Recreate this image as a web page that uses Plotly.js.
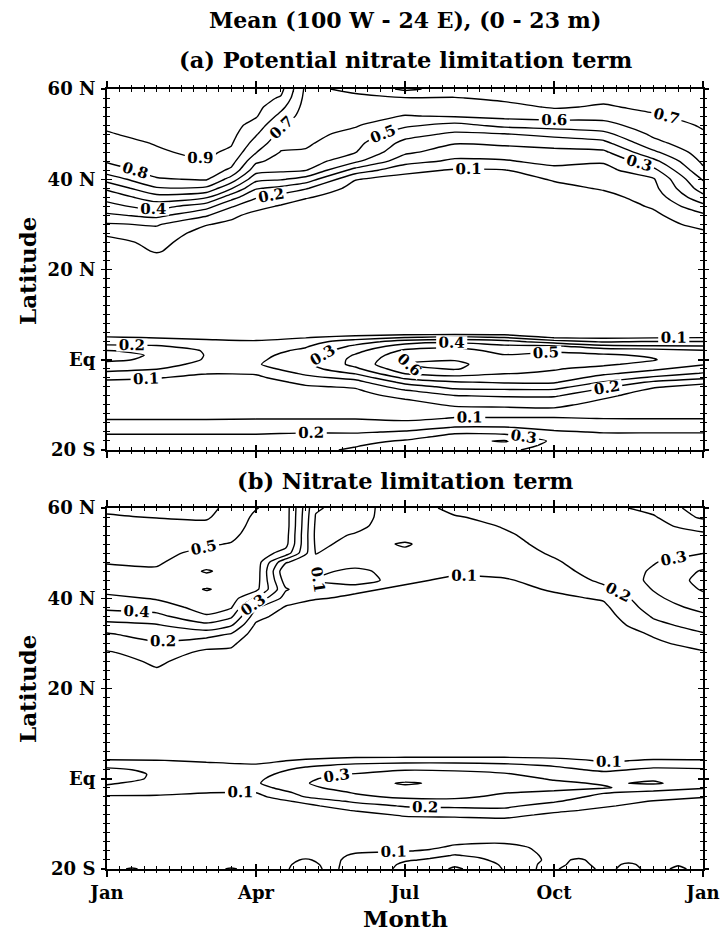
<!DOCTYPE html>
<html>
<head>
<meta charset="utf-8">
<script src="https://cdn.plot.ly/plotly-3.0.1.min.js"></script>
<style>html,body{margin:0;padding:0;background:#fff;}#chart{width:722px;height:935px;}</style>
</head>
<body>
<div id="chart"></div>
<script>
// ---------- grid coordinates ----------
const monthsA = [0,1,2,2.5,3,3.5,4,5,6,7,8,9,10,11,12];
const monthsB = [0,1,2,2.5,3,3.6,4.2,5,6,7,8,9,10,11,12];
const monthly = [0,1,2,3,4,5,6,7,8,9,10,11,12];
const halfMonths = [0,0.5,1,1.5,2,2.5,3,3.5,4,4.5,5,5.5,6,6.5,7,7.5,8,8.5,9,9.5,10,10.5,11,11.5,12];
const latNorth = [22,24,26,28,30,32,34,36,38,40,42,44,46,48,50,52,54,56,58,60];
const latEqA = [-20,-19,-18,-17,-16,-15,-14,-13,-12,-11,-10,-9,-8,-7,-6,-5,-4,-3,-2,-1,0,1,2,3,4,5,6,8];
const latEqB = [-11,-10,-9,-8,-7,-6,-5,-4,-3,-2,-1,0,1,2,3,4,5,6,8];
const latSouthB = [-20,-19,-18,-17,-16,-15,-14,-13,-12];

// ---------- tick labels ----------
const monthTickVals = [0,3,6,9,12];
const monthTickText = ['Jan','Apr','Jul','Oct','Jan'];
const latTickVals = [-20,0,20,40,60];
const latTickText = ['20 S','Eq','20 N','40 N','60 N'];

// ---------- (a) potential nitrate limitation, north (one array per month column, lat 22..60) ----------
const aNorth = [
 [0.00,0.02,0.06,0.12,0.19,0.28,0.37,0.43,0.52,0.64,0.75,0.81,0.84,0.87,0.895,0.91,0.92,0.93,0.94,0.95],
 [0.04,0.11,0.13,0.16,0.21,0.33,0.44,0.56,0.69,0.79,0.84,0.87,0.89,0.905,0.92,0.93,0.94,0.94,0.95,0.95],
 [0.00,0.02,0.04,0.06,0.105,0.21,0.34,0.51,0.68,0.81,0.86,0.895,0.92,0.93,0.94,0.94,0.95,0.95,0.95,0.95],
 [0.00,0.01,0.03,0.05,0.08,0.12,0.21,0.34,0.51,0.66,0.78,0.84,0.88,0.91,0.93,0.94,0.95,0.95,0.95,0.95],
 [0.00,0.01,0.02,0.03,0.05,0.07,0.13,0.21,0.31,0.43,0.54,0.62,0.705,0.76,0.81,0.86,0.91,0.93,0.94,0.95],
 [0.00,0.00,0.01,0.02,0.03,0.05,0.09,0.16,0.27,0.41,0.52,0.56,0.595,0.63,0.67,0.71,0.77,0.83,0.89,0.93],
 [0.00,0.00,0.01,0.01,0.02,0.03,0.05,0.11,0.21,0.36,0.505,0.56,0.59,0.615,0.63,0.64,0.65,0.66,0.67,0.68],
 [0.00,0.00,0.00,0.01,0.01,0.02,0.03,0.04,0.06,0.105,0.26,0.42,0.505,0.53,0.57,0.61,0.64,0.66,0.68,0.72],
 [0.00,0.00,0.00,0.00,0.01,0.01,0.02,0.03,0.04,0.06,0.13,0.24,0.32,0.37,0.44,0.52,0.595,0.65,0.695,0.82],
 [0.00,0.00,0.00,0.00,0.00,0.01,0.01,0.02,0.03,0.05,0.09,0.18,0.25,0.305,0.38,0.47,0.61,0.66,0.695,0.76],
 [0.00,0.00,0.00,0.00,0.00,0.00,0.01,0.02,0.03,0.05,0.095,0.19,0.25,0.32,0.395,0.53,0.63,0.67,0.72,0.75],
 [0.00,0.00,0.00,0.01,0.01,0.02,0.03,0.05,0.07,0.11,0.17,0.23,0.27,0.34,0.43,0.55,0.64,0.71,0.73,0.75],
 [0.00,0.00,0.01,0.01,0.02,0.03,0.05,0.07,0.11,0.14,0.17,0.21,0.28,0.37,0.47,0.57,0.63,0.69,0.72,0.74],
 [0.00,0.01,0.02,0.04,0.06,0.08,0.11,0.14,0.17,0.19,0.27,0.37,0.48,0.57,0.62,0.65,0.69,0.72,0.74,0.76],
 [0.00,0.02,0.05,0.08,0.13,0.18,0.27,0.37,0.45,0.51,0.58,0.62,0.65,0.67,0.69,0.71,0.73,0.75,0.77,0.78]
];

// ---------- (a) equatorial / south band (one array per month, lat -20..8) ----------
const aEq = [
 [0.25,0.24,0.23,0.21,0.19,0.16,0.13,0.09,0.07,0.05,0.05,0.05,0.05,0.05,0.06,0.08,0.12,0.18,0.23,0.27,0.32,0.33,0.305,0.22,0.15,0.105,0.02,0],
 [0.24,0.23,0.22,0.21,0.19,0.16,0.13,0.09,0.07,0.05,0.05,0.05,0.05,0.05,0.05,0.07,0.105,0.15,0.205,0.24,0.28,0.29,0.27,0.21,0.15,0.09,0.02,0],
 [0.24,0.23,0.22,0.21,0.19,0.16,0.13,0.09,0.07,0.05,0.05,0.05,0.05,0.05,0.05,0.05,0.07,0.105,0.14,0.17,0.19,0.195,0.19,0.16,0.12,0.08,0.02,0],
 [0.25,0.23,0.22,0.21,0.19,0.16,0.13,0.095,0.07,0.05,0.05,0.05,0.05,0.05,0.05,0.06,0.08,0.11,0.16,0.19,0.18,0.17,0.16,0.14,0.11,0.07,0.02,0],
 [0.28,0.26,0.24,0.22,0.195,0.165,0.13,0.095,0.07,0.05,0.05,0.05,0.05,0.06,0.09,0.12,0.17,0.22,0.26,0.28,0.27,0.25,0.22,0.19,0.16,0.09,0.02,0],
 [0.31,0.295,0.27,0.23,0.19,0.16,0.13,0.095,0.07,0.05,0.05,0.05,0.06,0.08,0.11,0.16,0.23,0.31,0.38,0.43,0.43,0.41,0.37,0.32,0.25,0.14,0.02,0],
 [0.33,0.33,0.31,0.26,0.21,0.16,0.12,0.08,0.06,0.06,0.07,0.09,0.13,0.18,0.25,0.33,0.42,0.51,0.57,0.605,0.58,0.56,0.52,0.45,0.35,0.19,0.02,0],
 [0.34,0.36,0.37,0.33,0.28,0.205,0.15,0.105,0.08,0.08,0.11,0.15,0.195,0.26,0.33,0.39,0.47,0.54,0.61,0.62,0.595,0.58,0.54,0.48,0.38,0.22,0.02,0],
 [0.32,0.36,0.41,0.33,0.27,0.205,0.15,0.105,0.08,0.08,0.12,0.16,0.21,0.27,0.34,0.41,0.46,0.505,0.53,0.55,0.53,0.505,0.47,0.42,0.34,0.19,0.02,0],
 [0.26,0.27,0.28,0.25,0.21,0.18,0.14,0.105,0.08,0.09,0.12,0.16,0.21,0.27,0.34,0.41,0.46,0.49,0.505,0.52,0.53,0.52,0.49,0.42,0.25,0.08,0.02,0],
 [0.26,0.25,0.24,0.22,0.195,0.17,0.14,0.098,0.07,0.06,0.07,0.09,0.12,0.16,0.22,0.29,0.36,0.42,0.48,0.51,0.52,0.51,0.47,0.33,0.19,0.07,0.02,0],
 [0.25,0.24,0.23,0.22,0.195,0.17,0.13,0.098,0.07,0.05,0.05,0.05,0.05,0.07,0.11,0.18,0.28,0.36,0.42,0.48,0.505,0.49,0.45,0.31,0.21,0.08,0.02,0],
 [0.25,0.24,0.23,0.22,0.195,0.17,0.13,0.098,0.07,0.05,0.05,0.05,0.05,0.05,0.07,0.12,0.22,0.295,0.35,0.41,0.44,0.44,0.41,0.305,0.205,0.09,0.02,0]
];

// ---------- (b) nitrate limitation, north (one array per month column, lat 22..60) ----------
const bNorth = [
 [0,0.02,0.05,0.09,0.15,0.19,0.26,0.36,0.42,0.47,0.54,0.55,0.52,0.495,0.49,0.48,0.47,0.45,0.41,0.38],
 [0.05,0.09,0.12,0.15,0.19,0.24,0.29,0.37,0.45,0.51,0.54,0.53,0.51,0.49,0.48,0.47,0.46,0.44,0.395,0.36],
 [0,0.01,0.04,0.08,0.14,0.24,0.37,0.49,0.54,0.57,0.605,0.56,0.61,0.55,0.52,0.49,0.46,0.42,0.39,0.38],
 [0,0.02,0.05,0.08,0.12,0.19,0.31,0.42,0.51,0.55,0.58,0.56,0.57,0.56,0.53,0.505,0.48,0.46,0.44,0.42],
 [0,0,0.01,0.02,0.03,0.05,0.08,0.14,0.21,0.38,0.53,0.55,0.56,0.56,0.56,0.55,0.54,0.53,0.52,0.495],
 [0,0,0,0,0.01,0.02,0.03,0.05,0.09,0.16,0.21,0.15,0.11,0.21,0.46,0.53,0.54,0.55,0.55,0.55],
 [0,0,0,0,0,0.01,0.02,0.04,0.07,0.105,0.12,0.097,0.11,0.12,0.098,0.085,0.08,0.085,0.095,0.11],
 [0,0,0,0.01,0.01,0.02,0.03,0.04,0.06,0.09,0.11,0.09,0.09,0.12,0.13,0.12,0.105,0.085,0.07,0.06],
 [0,0,0,0,0,0.01,0.02,0.03,0.04,0.06,0.09,0.11,0.12,0.12,0.11,0.095,0.12,0.14,0.15,0.16],
 [0,0,0,0,0,0,0.01,0.02,0.03,0.04,0.06,0.09,0.11,0.12,0.12,0.13,0.15,0.17,0.195,0.22],
 [0,0,0,0,0,0.01,0.02,0.03,0.04,0.05,0.07,0.09,0.13,0.15,0.16,0.18,0.19,0.205,0.22,0.23],
 [0,0,0,0.01,0.02,0.03,0.04,0.05,0.06,0.08,0.11,0.14,0.17,0.19,0.21,0.22,0.23,0.23,0.24,0.24],
 [0,0,0,0.01,0.02,0.03,0.04,0.06,0.08,0.11,0.18,0.22,0.24,0.25,0.26,0.26,0.26,0.26,0.27,0.27],
 [0,0.01,0.03,0.05,0.08,0.11,0.17,0.21,0.25,0.28,0.305,0.32,0.31,0.295,0.29,0.28,0.28,0.28,0.29,0.33],
 [0,0.03,0.06,0.09,0.14,0.19,0.24,0.28,0.33,0.37,0.41,0.43,0.41,0.35,0.298,0.28,0.285,0.33,0.42,0.45]
];

// ---------- (b) equatorial band (one array per month, lat -11..8) ----------
const bEq = [
 [0.03,0.03,0.03,0.03,0.04,0.04,0.06,0.09,0.13,0.18,0.21,0.23,0.24,0.22,0.17,0.11,0.06,0,0],
 [0.03,0.03,0.03,0.03,0.04,0.04,0.06,0.09,0.12,0.15,0.17,0.19,0.19,0.18,0.15,0.105,0.06,0,0],
 [0.03,0.03,0.03,0.03,0.03,0.04,0.05,0.07,0.105,0.13,0.14,0.15,0.15,0.14,0.12,0.09,0.05,0,0],
 [0.03,0.03,0.03,0.03,0.03,0.04,0.05,0.07,0.103,0.16,0.19,0.18,0.16,0.14,0.11,0.07,0.04,0,0],
 [0.03,0.04,0.04,0.05,0.06,0.08,0.12,0.205,0.24,0.28,0.295,0.29,0.27,0.23,0.18,0.12,0.06,0,0],
 [0.04,0.05,0.05,0.07,0.105,0.15,0.22,0.28,0.31,0.34,0.36,0.33,0.305,0.27,0.22,0.15,0.08,0.01,0],
 [0.05,0.06,0.08,0.11,0.16,0.21,0.26,0.32,0.35,0.38,0.41,0.37,0.34,0.295,0.24,0.16,0.08,0.02,0],
 [0.05,0.06,0.08,0.12,0.17,0.22,0.27,0.32,0.35,0.37,0.38,0.36,0.33,0.29,0.24,0.16,0.08,0.02,0],
 [0.05,0.06,0.09,0.13,0.18,0.22,0.25,0.28,0.305,0.33,0.35,0.34,0.31,0.27,0.22,0.16,0.08,0.02,0],
 [0.04,0.05,0.06,0.08,0.12,0.16,0.21,0.25,0.29,0.32,0.32,0.29,0.26,0.23,0.19,0.14,0.07,0.01,0],
 [0.04,0.04,0.05,0.06,0.08,0.11,0.14,0.17,0.21,0.31,0.29,0.27,0.23,0.18,0.12,0.09,0.06,0.01,0],
 [0.03,0.03,0.04,0.04,0.05,0.07,0.095,0.14,0.18,0.25,0.31,0.29,0.26,0.22,0.17,0.11,0.07,0.01,0],
 [0.03,0.03,0.03,0.03,0.04,0.05,0.07,0.105,0.15,0.21,0.26,0.27,0.25,0.21,0.17,0.11,0.06,0.01,0]
];

// ---------- (b) southern edge (one array per latitude row -20..-12, half-month columns) ----------
const bSouth = [
 [0.09,0.103,0.09,0.09,0.09,0.103,0.09,0.09,0.12,0.09,0.12,0.12,0.08,0.07,0.11,0.08,0.102,0.102,0.095,0.12,0.09,0.11,0.09,0.105,0.09],
 [0.088,0.09,0.088,0.088,0.088,0.09,0.088,0.088,0.115,0.088,0.12,0.12,0.09,0.08,0.09,0.085,0.105,0.105,0.09,0.11,0.088,0.105,0.088,0.098,0.088],
 [0.085,0.085,0.085,0.085,0.085,0.085,0.085,0.085,0.105,0.085,0.12,0.12,0.105,0.095,0.09,0.095,0.11,0.11,0.09,0.105,0.085,0.09,0.085,0.085,0.085],
 [0.08,0.08,0.08,0.08,0.08,0.08,0.08,0.08,0.085,0.08,0.11,0.115,0.115,0.11,0.098,0.105,0.115,0.11,0.085,0.09,0.08,0.08,0.08,0.08,0.08],
 [0.075,0.075,0.075,0.075,0.075,0.075,0.075,0.075,0.075,0.075,0.09,0.095,0.098,0.105,0.11,0.115,0.115,0.105,0.08,0.075,0.075,0.075,0.075,0.075,0.075],
 [0.07,0.07,0.07,0.07,0.07,0.07,0.07,0.07,0.07,0.07,0.075,0.08,0.085,0.09,0.105,0.11,0.11,0.098,0.075,0.07,0.07,0.07,0.07,0.07,0.07],
 [0.06,0.06,0.06,0.06,0.06,0.06,0.06,0.06,0.06,0.06,0.06,0.06,0.06,0.07,0.09,0.095,0.095,0.09,0.06,0.06,0.06,0.06,0.06,0.06,0.06],
 [0.05,0.05,0.05,0.05,0.05,0.05,0.05,0.05,0.05,0.05,0.05,0.05,0.05,0.05,0.06,0.06,0.06,0.06,0.05,0.05,0.05,0.05,0.05,0.05,0.05],
 [0.04,0.04,0.04,0.04,0.04,0.04,0.04,0.04,0.04,0.04,0.04,0.04,0.04,0.04,0.04,0.04,0.04,0.04,0.04,0.04,0.04,0.04,0.04,0.04,0.04]
];

// ---------- styling ----------
const FONT = 'DejaVu Serif';
function contourTrace(x, y, z, xa, ya, transpose) {
  return {
    type: 'contour', x: x, y: y, z: z, transpose: transpose,
    xaxis: xa, yaxis: ya,
    autocontour: false,
    contours: {coloring: 'lines', start: 0.1, end: 0.9, size: 0.1, showlabels: true,
      labelformat: '.1f',
      labelfont: {family: FONT, size: 15, color: '#000', weight: 'bold'}},
    colorscale: [[0, '#000'], [1, '#000']],
    showscale: false, hoverinfo: 'skip',
    line: {width: 1.4, smoothing: 0.6}
  };
}

const data = [
  contourTrace(monthsA, latNorth, aNorth, 'x', 'y', true),
  contourTrace(monthly, latEqA, aEq, 'x', 'y', true),
  contourTrace(monthsB, latNorth, bNorth, 'x2', 'y2', true),
  contourTrace(monthly, latEqB, bEq, 'x2', 'y2', true),
  contourTrace(halfMonths, latSouthB, bSouth, 'x2', 'y2', false),
  {type: 'scatter', x: [], y: [], xaxis: 'x3', yaxis: 'y3', hoverinfo: 'skip', showlegend: false},
  {type: 'scatter', x: [], y: [], xaxis: 'x4', yaxis: 'y4', hoverinfo: 'skip', showlegend: false}
];

const W = 722, H = 935;
const xDom = [107 / W, 703 / W];
const yDomA = [1 - 450 / H, 1 - 89 / H];
const yDomB = [1 - 869 / H, 1 - 508 / H];

function xAxisMain(anchor, labels) {
  return {
    domain: xDom, anchor: anchor, range: [0, 12],
    tickmode: 'array', tickvals: monthTickVals, ticktext: monthTickText,
    showticklabels: labels, ticklabelstandoff: 6,
    ticks: 'inside', ticklen: 5, tickwidth: 1.5, tickcolor: '#000', mirror: 'allticks',
    showline: true, linewidth: 2, linecolor: '#000', showgrid: false, zeroline: false,
    tickfont: {family: FONT, size: 18, color: '#000', weight: 'bold'},
    minor: {tickmode: 'linear', tick0: 0, dtick: 0.25, ticks: 'inside', ticklen: 3, tickwidth: 1, tickcolor: '#000', showgrid: false}
  };
}
function xAxisOver(over, anchor) {
  return {
    overlaying: over, anchor: anchor, range: [0, 12],
    tickmode: 'array', tickvals: monthTickVals, showticklabels: false,
    ticks: 'outside', ticklen: 7, tickwidth: 1.5, tickcolor: '#000', mirror: 'allticks',
    showline: false, showgrid: false, zeroline: false,
    minor: {tickmode: 'linear', tick0: 0, dtick: 0.25, ticks: 'outside', ticklen: 3, tickwidth: 1, tickcolor: '#000', showgrid: false}
  };
}
function yAxisMain(dom, anchor) {
  return {
    domain: dom, anchor: anchor, range: [-20, 60],
    tickmode: 'array', tickvals: latTickVals, ticktext: latTickText,
    ticklabelstandoff: 6,
    ticks: 'inside', ticklen: 5, tickwidth: 1.5, tickcolor: '#000', mirror: 'allticks',
    showline: true, linewidth: 2, linecolor: '#000', showgrid: false, zeroline: false,
    tickfont: {family: FONT, size: 18, color: '#000', weight: 'bold'},
    minor: {tickmode: 'linear', tick0: 0, dtick: 2, ticks: 'inside', ticklen: 3, tickwidth: 1, tickcolor: '#000', showgrid: false}
  };
}
function yAxisOver(over, anchor) {
  return {
    overlaying: over, anchor: anchor, range: [-20, 60],
    tickmode: 'array', tickvals: latTickVals, showticklabels: false,
    ticks: 'outside', ticklen: 5, tickwidth: 1.5, tickcolor: '#000', mirror: 'allticks',
    showline: false, showgrid: false, zeroline: false,
    minor: {tickmode: 'linear', tick0: 0, dtick: 2, ticks: 'outside', ticklen: 3, tickwidth: 1, tickcolor: '#000', showgrid: false}
  };
}

function ann(text, x, y, size, angle) {
  return {text: text, xref: 'paper', yref: 'paper', x: x, y: y, showarrow: false,
    xanchor: 'center', yanchor: 'middle', textangle: angle || 0,
    font: {family: FONT, size: size, color: '#000', weight: 'bold'}};
}

const layout = {
  width: W, height: H,
  margin: {l: 0, r: 0, t: 0, b: 0},
  paper_bgcolor: '#fff', plot_bgcolor: '#fff',
  showlegend: false,
  font: {family: FONT, size: 18, color: '#000', weight: 'bold'},
  xaxis: xAxisMain('y', false),
  xaxis2: xAxisMain('y2', true),
  xaxis3: xAxisOver('x', 'y'),
  xaxis4: xAxisOver('x2', 'y2'),
  yaxis: yAxisMain(yDomA, 'x'),
  yaxis2: yAxisMain(yDomB, 'x2'),
  yaxis3: yAxisOver('y', 'x'),
  yaxis4: yAxisOver('y2', 'x2'),
  annotations: [
    ann('Mean (100 W - 24 E), (0 - 23 m)', 405 / W, 1 - 20 / H, 22),
    ann('(a) Potential nitrate limitation term', 405 / W, 1 - 60 / H, 22.5),
    ann('(b) Nitrate limitation term', 405 / W, 1 - 481 / H, 22.5),
    ann('Latitude', 27 / W, 1 - 270 / H, 23, -90),
    ann('Latitude', 27 / W, 1 - 688 / H, 23, -90),
    ann('Month', 405 / W, 1 - 918 / H, 23)
  ]
};

Plotly.newPlot('chart', data, layout, {staticPlot: true, displayModeBar: false});
</script>
</body>
</html>
